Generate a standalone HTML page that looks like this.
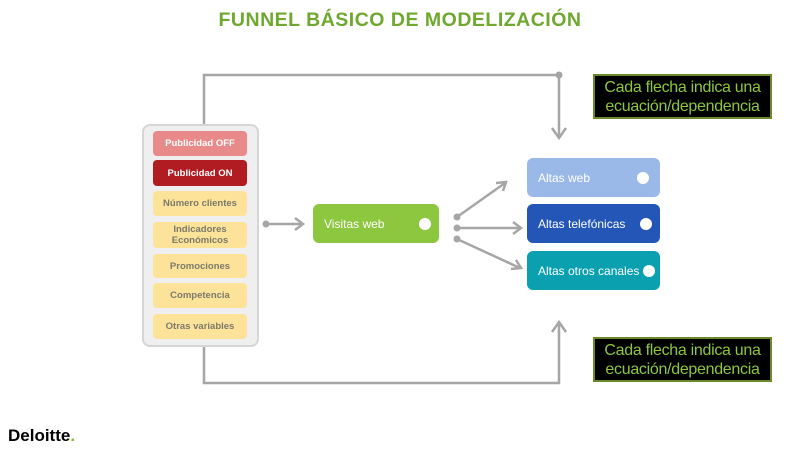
<!DOCTYPE html>
<html><head><meta charset="utf-8"><style>
body{margin:0;width:800px;height:450px;background:#fff;position:relative;overflow:hidden;font-family:"Liberation Sans",sans-serif}
.a{position:absolute;box-sizing:border-box}
.v{left:153px;width:94px;border-radius:4px;display:flex;align-items:center;justify-content:center;text-align:center;font-size:9.5px;font-weight:bold;color:#7a7a6a;background:#fde39a;line-height:11px}
.b{border-radius:6px;color:#fff;font-size:12px;display:flex;align-items:center;padding-left:11px}
.dot{position:absolute;width:12px;height:12px;border-radius:50%;background:#fff;top:50%;margin-top:-6px}
.note{left:593px;width:179px;height:45px;background:#000;border:2px solid #6a8a2a;color:#8dc63f;font-size:16px;line-height:19px;text-align:center;padding-top:2px;letter-spacing:-0.3px}
</style></head><body>
<div class="a" style="left:0;top:9px;width:800px;text-align:center;color:#6ea82e;font-weight:bold;font-size:19.5px;letter-spacing:0.5px">FUNNEL BÁSICO DE MODELIZACIÓN</div>
<svg class="a" style="left:0;top:0" width="800" height="450">
<g stroke="#a6a6a6" stroke-width="2.5" fill="none">
<polyline points="204,124 204,75 559,75 559,136"/>
<polyline points="552,128 559,138 566,128"/>
<polyline points="204,347 204,383 559,383 559,324"/>
<polyline points="552,332 559,322 566,332"/>
<line x1="266" y1="224" x2="302" y2="224"/><polyline points="295,218 303,224 295,230"/>
<line x1="457" y1="217" x2="505" y2="183"/><polyline points="496,183 506,182 503,191"/>
<line x1="457" y1="228" x2="520" y2="228"/><polyline points="513,222 521,228 513,234"/>
<line x1="457" y1="239" x2="520" y2="268"/><polyline points="511,269 521,268 516,260"/>
</g>
<g fill="#a6a6a6"><circle cx="266" cy="224" r="3.5"/><circle cx="457" cy="217" r="3.5"/><circle cx="457" cy="228" r="3.5"/><circle cx="457" cy="239" r="3.5"/><circle cx="559" cy="75" r="3.5"/></g>
</svg>
<div class="a" style="left:142px;top:124px;width:117px;height:223px;background:#efefef;border:2px solid #d6d6d6;border-radius:8px"></div>
<div class="a v" style="top:131px;height:25px;background:#e88a8a;color:#fff">Publicidad OFF</div>
<div class="a v" style="top:160px;height:26px;background:#b01c22;color:#fff">Publicidad ON</div>
<div class="a v" style="top:191px;height:25px">Número clientes</div>
<div class="a v" style="top:222px;height:26px">Indicadores<br>Económicos</div>
<div class="a v" style="top:254px;height:24px">Promociones</div>
<div class="a v" style="top:283px;height:25px">Competencia</div>
<div class="a v" style="top:314px;height:25px">Otras variables</div>
<div class="a b" style="left:313px;top:204px;width:126px;height:39px;background:#8dc63f">Visitas web<span class="dot" style="right:8px"></span></div>
<div class="a b" style="left:527px;top:158px;width:133px;height:39px;background:#9bb9e8">Altas web<span class="dot" style="right:11px"></span></div>
<div class="a b" style="left:527px;top:204px;width:133px;height:39px;background:#2456b8">Altas telefónicas<span class="dot" style="right:8px"></span></div>
<div class="a b" style="left:527px;top:251px;width:133px;height:39px;background:#0aa0b0">Altas otros canales<span class="dot" style="right:5px"></span></div>
<div class="a note" style="top:74px">Cada flecha indica una<br>ecuación/dependencia</div>
<div class="a note" style="top:337px">Cada flecha indica una<br>ecuación/dependencia</div>
<div class="a" style="left:8px;top:426px;font-weight:bold;font-size:17px;color:#000">Deloitte<span style="color:#86bc25">.</span></div>
</body></html>
